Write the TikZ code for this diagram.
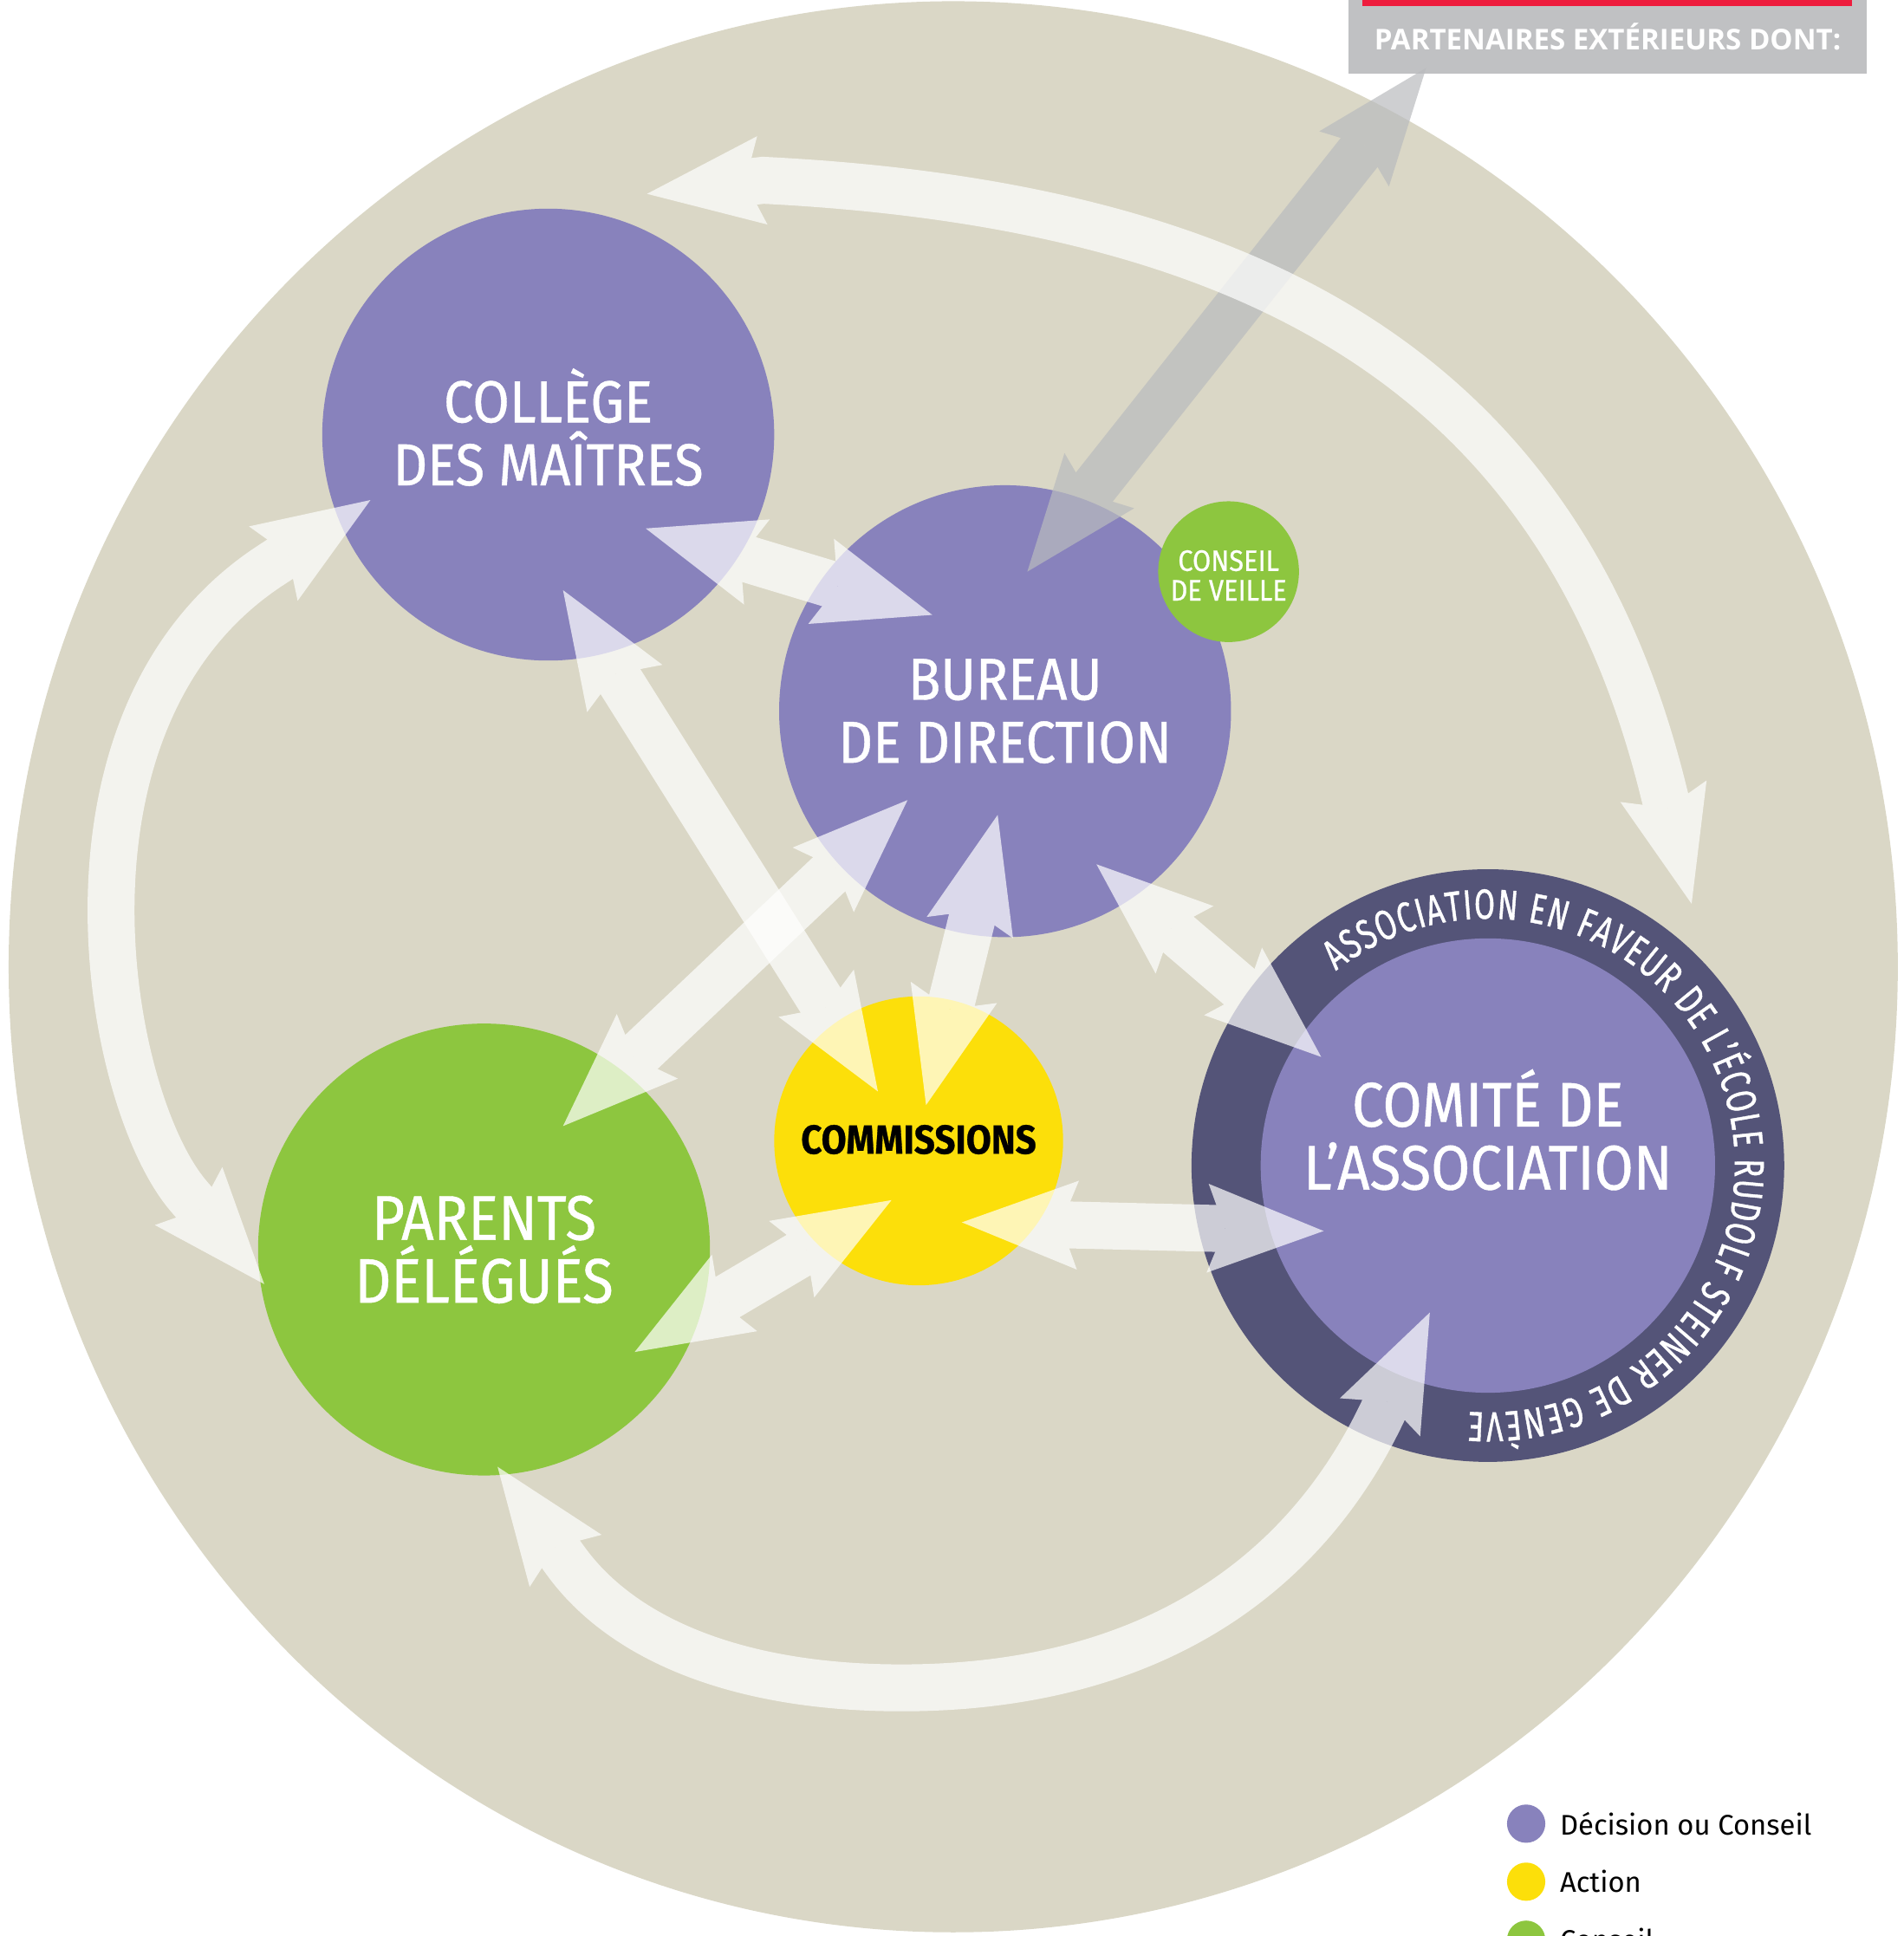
\documentclass[tikz,border=0pt]{standalone}
\usepackage{fontspec}
\setmainfont{Fira Sans}
\newfontfamily\titlefont[FakeStretch=0.9,FakeBold=0.6]{Fira Sans}
\newfontfamily\ringfont[FakeStretch=0.72,FakeBold=0.8]{Fira Sans}
\newfontfamily\legendfont{Fira Sans}
\newfontfamily\boxfont{Open Sans}
\usetikzlibrary{arrows.meta,decorations.text}
\definecolor{beige}{RGB}{218,215,198}
\definecolor{lilac}{RGB}{136,130,188}
\definecolor{ringdark}{RGB}{84,84,120}
\definecolor{leaf}{RGB}{141,198,63}
\definecolor{sun}{RGB}{252,223,10}
\definecolor{boxgray}{RGB}{192,193,195}
\definecolor{barred}{RGB}{238,28,61}
\definecolor{arrowgray}{RGB}{185,187,190}
\tikzset{bt/.tip={Stealth[length=47pt,width=36pt,inset=7pt,line width=0pt]}}
\newcommand\fBig{\titlefont\fontsize{24}{25.5}\selectfont}
\newcommand\fLarge{\titlefont\fontsize{25.5}{25.5}\selectfont}
\newcommand\fComm{\titlefont\bfseries\fontsize{16.4}{16.4}\selectfont}
\newcommand\fVeille{\titlefont\fontsize{12}{12}\selectfont}
\newcommand\fRing{\ringfont\fontsize{17}{17}\selectfont}
\newcommand\fLegend{\legendfont\fontsize{11.5}{11.5}\selectfont}
\begin{document}
\begin{tikzpicture}[x=0.5pt,y=-0.5pt,
  bubble/.style={circle,inner sep=0pt,minimum size=#1},
  title/.style={text=white,align=center,inner sep=0pt},
  flow/.style={line width=19pt,color=white,arrows={bt-bt}},
  grayflow/.style={line width=19pt,color=arrowgray,arrows={bt-bt}},
  glass/.style={transparency group,opacity=0.7},
  legenddot/.style={circle,inner sep=0pt,minimum size=15.5pt},
  legendtext/.style={anchor=west,inner sep=0pt,font=\fLegend,text=black}]
\useasboundingbox (0,0) rectangle (1542,1568);
% background
\fill[beige] (772,783) ellipse [x radius=765, y radius=782];
\fill[boxgray] (1092,0) rectangle (1512,60);
\fill[barred] (1103,0) rectangle (1500,5);
\node[font=\boxfont\bfseries\fontsize{11.6}{11.6}\selectfont,text=white,inner sep=0pt] (partners) at (1302,30) {PARTENAIRES EXTÉRIEURS DONT:};
% circles
\node[bubble=183pt,fill=lilac] (college) at (444,352) {};
\node[bubble=183pt,fill=lilac] (bureau) at (814,576) {};
\node[bubble=57pt,fill=leaf] (veille) at (995,463) {};
\node[bubble=183pt,fill=leaf] (parents) at (392,1012) {};
\node[bubble=117pt,fill=sun] (commissions) at (744,924) {};
\node[bubble=240pt,fill=ringdark] (ring) at (1205,944) {};
\node[bubble=184pt,fill=lilac] (comite) at (1205,944) {};
% ring text
\path[decorate,decoration={text along path,text align={fit to path},text color=white,
  text={|\fRing|ASSOCIATION EN FAVEUR DE L’ÉCOLE RUDOLF STEINER DE GENÈVE}}]
  (ring.center) ++(-128:200) arc[start angle=-128,end angle=94.5,radius=200];
% arrow end points
\coordinate (tA) at (524,157); \coordinate (bA) at (618,146);
\coordinate (bB) at (1347,640); \coordinate (tB) at (1370,732);
\coordinate (tC) at (300,405); \coordinate (bC) at (219,458);
\coordinate (bD) at (153,969); \coordinate (tD) at (214,1040);
\coordinate (tE) at (403,1188); \coordinate (bE) at (458,1264);
\coordinate (lowE) at (730,1367);
\coordinate (bF) at (1120,1143); \coordinate (tF) at (1158,1063);
\coordinate (c1) at (523,428); \coordinate (c2) at (755,498);
\coordinate (d1) at (456,478); \coordinate (d2) at (711,884);
\coordinate (e1) at (735,648); \coordinate (e2) at (456,912);
\coordinate (f1) at (808,660); \coordinate (f2) at (750,895);
\coordinate (g1) at (888,700); \coordinate (g2) at (1070,856);
\coordinate (h1) at (514,1095); \coordinate (h2) at (722,972);
\coordinate (k1) at (779,990); \coordinate (k2) at (1072,997);
\coordinate (m1) at (832,463); \coordinate (m2) at (1155,55);
% arrows
\begin{scope}[glass]
\draw[grayflow] (m1) -- (m2);
\end{scope}
\begin{scope}[glass]
\draw[flow] (tA) -- (bA) .. controls (1038,167) and (1267,318) .. (bB) -- (tB);
\end{scope}
\begin{scope}[glass]
\draw[flow] (tC) -- (bC) .. controls (31,581) and (85,890) .. (bD) -- (tD);
\end{scope}
\begin{scope}[glass]
\draw[flow] (tE) -- (bE) .. controls (505,1329) and (600,1367) .. (lowE)
  .. controls (930,1367) and (1056,1278) .. (bF) -- (tF);
\end{scope}
\begin{scope}[glass]\draw[flow] (c1) -- (c2);\end{scope}
\begin{scope}[glass]\draw[flow] (d1) -- (d2);\end{scope}
\begin{scope}[glass]\draw[flow] (e1) -- (e2);\end{scope}
\begin{scope}[glass]\draw[flow] (f1) -- (f2);\end{scope}
\begin{scope}[glass]\draw[flow] (g1) -- (g2);\end{scope}
\begin{scope}[glass]\draw[flow] (h1) -- (h2);\end{scope}
\begin{scope}[glass]\draw[flow] (k1) -- (k2);\end{scope}
% titles
\node[title,font=\fBig] (collegeT) at (444,346) {COLLÈGE\\DES MAÎTRES};
\node[title,font=\fBig] (bureauT) at (814,576) {BUREAU\\DE DIRECTION};
\node[title,font=\fVeille] (veilleT) at (995,466) {CONSEIL\\DE VEILLE};
\node[title,font=\fLarge] (parentsT) at (392,1012) {PARENTS\\DÉLÉGUÉS};
\node[title,font=\fComm,text=black] (commT) at (744,923) {COMMISSIONS};
\node[title,font=\fLarge] (comiteT) at (1205,915) {COMITÉ DE\\L’ASSOCIATION};
% legend
\node[legenddot,fill=lilac] (l1) at (1236,1477) {};
\node[legenddot,fill=sun] (l2) at (1236,1524) {};
\node[legenddot,fill=leaf] (l3) at (1236,1571) {};
\node[legendtext] (l1t) at (1263,1477) {Décision ou Conseil};
\node[legendtext] (l2t) at (1263,1524) {Action};
\node[legendtext] (l3t) at (1263,1571) {Conseil};
\end{tikzpicture}
\end{document}
